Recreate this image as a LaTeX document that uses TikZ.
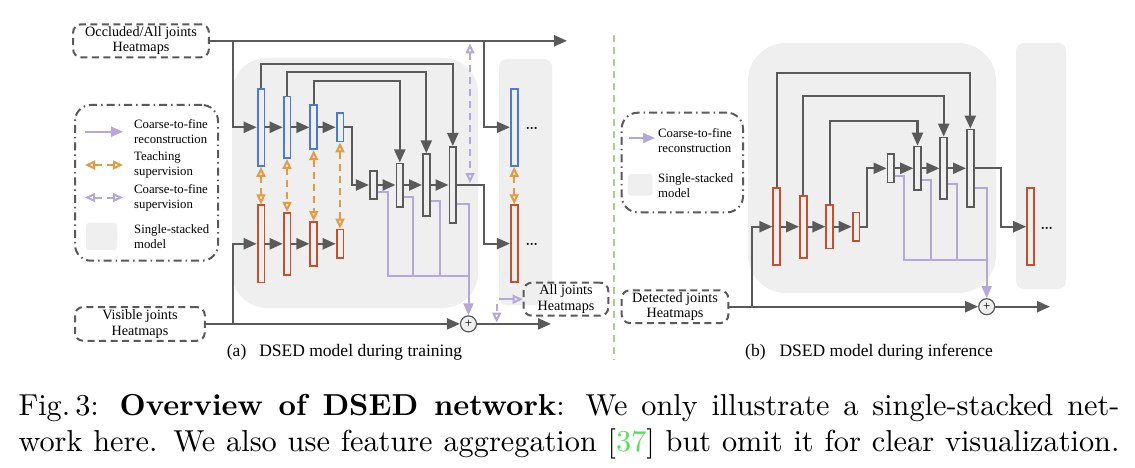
\documentclass[tikz,border=0pt]{standalone}
\usepackage{fontspec}
\newfontfamily\tms{Liberation Serif}
\newfontfamily\capf{lmroman10}[Extension=.otf,UprightFont=*-regular,BoldFont=*-bold]
\usetikzlibrary{arrows.meta,calc}
\definecolor{dk}{HTML}{5A5A5A}
\definecolor{bgg}{HTML}{EFEFEF}
\definecolor{blu}{HTML}{4C78D6}
\definecolor{rd}{HTML}{C64F2D}
\definecolor{org}{HTML}{E39B42}
\definecolor{pu}{HTML}{B4A8DA}
\definecolor{sepg}{HTML}{A9D18E}
\definecolor{citeg}{HTML}{4FE34F}
\tikzset{
  ln/.style={draw=dk,line width=2.2pt},
  arr/.style={ln,-{Triangle[length=13pt,width=11pt]}},
  pln/.style={draw=pu,line width=2pt},
  parr/.style={pln,-{Triangle[length=12pt,width=10pt]}},
  psup/.style={pln,dash pattern=on 7pt off 5pt,{Triangle[open,length=10pt,width=9pt]}-{Triangle[open,length=10pt,width=9pt]}},
  psone/.style={pln,-{Triangle[open,length=10pt,width=9pt]}},
  osup/.style={draw=org,line width=2pt,dash pattern=on 7pt off 5pt,{Triangle[open,length=10pt,width=9pt]}-{Triangle[open,length=10pt,width=9pt]}},
  barbase/.style={fill=bgg,line width=1.8pt,minimum width=6.8pt,inner sep=0pt},
  enc/.style={barbase,draw=blu},
  rbar/.style={barbase,draw=rd},
  gbar/.style={barbase,draw=dk},
  hbox/.style={draw=dk,line width=2pt,dash pattern=on 7pt off 4.5pt,rounded corners=8pt,inner sep=0pt,align=center,font=\tms\fontsize{14.2}{15.5}\selectfont},
  legbox/.style={draw=dk,line width=2pt,dash pattern=on 8pt off 4pt on 1.5pt off 4pt,rounded corners=16pt,inner sep=0pt},
  legtxt/.style={anchor=west,inner sep=0pt,align=left,font=\tms\fontsize{12.75}{15.3}\selectfont},
  legsq/.style={fill=bgg,rounded corners=3pt,inner sep=0pt},
  plusn/.style={circle,draw=dk,fill=bgg,line width=1.2pt,minimum size=16pt,inner sep=0pt,font=\tms\fontsize{13}{13}\selectfont},
  subcap/.style={anchor=base west,inner sep=0pt,font=\tms\fontsize{17.5}{20}\selectfont},
  dotsn/.style={anchor=base west,inner sep=0pt,font=\capf\fontsize{20}{20}\selectfont},
  capn/.style={anchor=base west,inner sep=0pt,font=\capf\fontsize{30.3}{36}\selectfont}
}
\begin{document}
\begin{tikzpicture}[x=1pt,y=-1pt]
\useasboundingbox (0,0) rectangle (1135,468);
\fill[white] (0,0) rectangle (1135,468);

% ---------- backgrounds ----------
\fill[bgg,rounded corners=35pt] (232,58) rectangle (478,308);
\fill[bgg,rounded corners=8pt] (499,59) rectangle (552,305);
\fill[bgg,rounded corners=38pt] (748,43) rectangle (996,293);
\fill[bgg,rounded corners=8pt] (1016,43) rectangle (1066,289);

% ---------- separator ----------
\coordinate (sepT) at (614,35);
\coordinate (sepB) at (614,360);
\draw[sepg,line width=2pt,dash pattern=on 7pt off 5pt] (sepT) -- (sepB);

% ---------- (a) nodes ----------
\node[hbox,minimum width=135.7pt,minimum height=33pt] (occ) at (141,40.8) {Occluded/All joints\\Heatmaps};
\node[hbox,minimum width=129.7pt,minimum height=33.7pt] (vis) at (139.9,323.9) {Visible joints\\Heatmaps};
\node[hbox,minimum width=84.6pt,minimum height=33pt] (allj) at (566,299.2) {All joints\\Heatmaps};

\node[enc,minimum height=77.2pt] (ea1) at (261,127.3) {};
\node[enc,minimum height=61.5pt] (ea2) at (287,127.3) {};
\node[enc,minimum height=43.9pt] (ea3) at (313.7,127.3) {};
\node[enc,minimum height=28.5pt] (ea4) at (340,127.3) {};

\node[rbar,minimum height=77.2pt] (oa1) at (261,243.8) {};
\node[rbar,minimum height=62.2pt] (oa2) at (287,243.8) {};
\node[rbar,minimum height=43.8pt] (oa3) at (313.7,243.8) {};
\node[rbar,minimum height=28.6pt] (oa4) at (340,243.8) {};

\node[gbar,minimum height=28.2pt] (da1) at (373.2,185) {};
\node[gbar,minimum height=43.2pt] (da2) at (399.8,185) {};
\node[gbar,minimum height=61.6pt] (da3) at (426.3,185) {};
\node[gbar,minimum height=76.2pt] (da4) at (452.8,185) {};

\node[enc,minimum height=77.2pt] (sa1) at (514.2,127.3) {};
\node[rbar,minimum height=76.9pt] (sa2) at (514.2,243.6) {};

\node[dotsn] (dA1) at (525,130) {\ldots};
\node[dotsn] (dA2) at (525,245) {\ldots};

\node[plusn] (plusA) at (468.5,323.9) {+};

% ---------- (a) connectors ----------
\coordinate (topEnd) at (567,40.8);
\coordinate (brA1) at (233,40.8);
\coordinate (brA2) at (484,40.8);
\draw[arr] (occ.east) -- (topEnd);
\draw[arr] (brA1) |- (ea1.west);
\draw[arr] (brA2) |- (sa1.west);
\draw[arr] (ea1.east) -- (ea2.west);
\draw[arr] (ea2.east) -- (ea3.west);
\draw[arr] (ea3.east) -- (ea4.west);
\draw[arr] (ea4.east) -- ++(8,0) |- (da1.west);
\draw[arr] (da1.east) -- (da2.west);
\draw[arr] (da2.east) -- (da3.west);
\draw[arr] (da3.east) -- (da4.west);
\draw[arr] (ea1.north) -- ++(0,-24) -| (da4.north);
\draw[arr] (ea2.north) -- ++(0,-23.7) -| (da3.north);
\draw[arr] (ea3.north) -- ++(0,-23.3) -| (da2.north);
\draw[arr] (da4.east) -- ++(27,0) |- (sa2.west);

\coordinate (brA3) at (233,323.9);
\coordinate (outA) at (551,323.9);
\draw[arr] (vis.east) -- (plusA.west);
\draw[arr] (brA3) |- (oa1.west);
\draw[arr] (oa1.east) -- (oa2.west);
\draw[arr] (oa2.east) -- (oa3.west);
\draw[arr] (oa3.east) -- (oa4.west);
\draw[arr] (plusA.east) -- (outA);

\draw[osup] (ea1.south) -- (oa1.north);
\draw[osup] (ea2.south) -- (oa2.north);
\draw[osup] (ea3.south) -- (oa3.north);
\draw[osup] (ea4.south) -- (oa4.north);
\draw[osup] (sa1.south) -- (sa2.north);

\coordinate (jA) at (468.5,276);
\draw[pln] ([yshift=-7.3pt]da1.east) -- ++(10.5,0) |- (jA);
\draw[pln] ([yshift=-11.7pt]da2.east) -- ++(8.7,0) |- (jA);
\draw[pln] ([yshift=-15.7pt]da3.east) -- ++(9,0) |- (jA);
\draw[parr] ([yshift=-19.3pt]da4.east) -| (plusA.north);

\coordinate (psA1) at (470,43.5);
\coordinate (psA2) at (470,183);
\draw[psup] (psA1) -- (psA2);
\coordinate (psA3) at (496.7,304);
\coordinate (psA4) at (496.7,322.5);
\draw[psone,dash pattern=on 7pt off 5pt] (psA3) -- (psA4);
\coordinate (psA5) at (499,299.2);
\draw[psone] (psA5) -- (allj.west);

% ---------- (a) legend ----------
\node[legbox,minimum width=143pt,minimum height=155.7pt] (legA) at (146.5,182.85) {};
\coordinate (lA1s) at (85,131.7); \coordinate (lA1e) at (123,131.7);
\draw[parr] (lA1s) -- (lA1e);
\node[legtxt] (tA1) at (134,131.7) {Coarse-to-fine\\reconstruction};
\coordinate (lA2s) at (85,165); \coordinate (lA2e) at (123,165);
\draw[osup] (lA2s) -- (lA2e);
\node[legtxt] (tA2) at (134,165) {Teaching\\supervision};
\coordinate (lA3s) at (85,197.5); \coordinate (lA3e) at (123,197.5);
\draw[psup] (lA3s) -- (lA3e);
\node[legtxt] (tA3) at (134,198) {Coarse-to-fine\\supervision};
\node[legsq,minimum width=31pt,minimum height=27pt] (sqA) at (101.6,236.4) {};
\node[legtxt] (tA4) at (134,236.5) {Single-stacked\\model};

\node[subcap] (capa) at (226.7,356) {(a)\hspace{13pt}DSED model during training};

% ---------- (b) nodes ----------
\node[hbox,minimum width=106.6pt,minimum height=32.7pt] (det) at (675,306.7) {Detected joints\\Heatmaps};

\node[rbar,minimum height=76.9pt] (ob1) at (776.7,226.7) {};
\node[rbar,minimum height=62.2pt] (ob2) at (803.3,226.7) {};
\node[rbar,minimum height=43.5pt] (ob3) at (829.7,226.7) {};
\node[rbar,minimum height=28.5pt] (ob4) at (856,226.7) {};

\node[gbar,minimum height=28.2pt] (db1) at (890.8,168.3) {};
\node[gbar,minimum height=43.5pt] (db2) at (917.5,168.3) {};
\node[gbar,minimum height=61.5pt] (db3) at (943.7,168.3) {};
\node[gbar,minimum height=77.6pt] (db4) at (970.3,168.3) {};

\node[rbar,minimum height=76.9pt] (sb1) at (1030.5,226.7) {};
\node[dotsn] (dB1) at (1040,229) {\ldots};

\node[plusn] (plusB) at (986.7,306.7) {+};

% ---------- (b) connectors ----------
\coordinate (brB) at (751.7,306.7);
\coordinate (outB) at (1050,306.7);
\draw[arr] (det.east) -- (plusB.west);
\draw[arr] (brB) |- (ob1.west);
\draw[arr] (ob1.east) -- (ob2.west);
\draw[arr] (ob2.east) -- (ob3.west);
\draw[arr] (ob3.east) -- (ob4.west);
\draw[arr] (ob4.east) -- ++(7,0) |- (db1.west);
\draw[arr] (db1.east) -- (db2.west);
\draw[arr] (db2.east) -- (db3.west);
\draw[arr] (db3.east) -- (db4.west);
\draw[arr] (ob1.north) -- ++(0,-114.6) -| (db4.north);
\draw[arr] (ob2.north) -- ++(0,-98.7) -| (db3.north);
\draw[arr] (ob3.north) -- ++(0,-83.3) -| (db2.north);
\draw[arr] (db4.east) -- ++(26,0) |- (sb1.west);
\draw[arr] (plusB.east) -- (outB);

\coordinate (jB) at (986.7,260);
\draw[pln] ([yshift=-7.4pt]db1.east) -- ++(9.3,0) |- (jB);
\draw[pln] ([yshift=-11.7pt]db2.east) -- ++(9,0) |- (jB);
\draw[pln] ([yshift=-15.7pt]db3.east) -- ++(8.7,0) |- (jB);
\draw[parr] ([yshift=-19.4pt]db4.east) -| (plusB.north);

% ---------- (b) legend ----------
\node[legbox,minimum width=121.3pt,minimum height=99.6pt] (legB) at (682.35,162.5) {};
\coordinate (lB1s) at (629,138); \coordinate (lB1e) at (655,138);
\draw[parr] (lB1s) -- (lB1e);
\node[legtxt] (tB1) at (658,140.5) {Coarse-to-fine\\reconstruction};
\node[legsq,minimum width=24.7pt,minimum height=21.7pt] (sqB) at (640.3,184.85) {};
\node[legtxt] (tB2) at (658,185.5) {Single-stacked\\model};

\node[subcap] (capb) at (745,356) {(b)\hspace{14pt}DSED model during inference};

% ---------- caption ----------
\node[capn] (cap1) at (18.3,415) {\makebox[1101pt][s]{Fig.\,3: \textbf{Overview of DSED network}: We only illustrate a single-stacked net-}};
\node[capn] (cap2) at (18.3,451.5) {\makebox[1101pt][s]{work here. We also use feature aggregation [\textcolor{citeg}{37}] but omit it for clear visualization.}};
\end{tikzpicture}
\end{document}
